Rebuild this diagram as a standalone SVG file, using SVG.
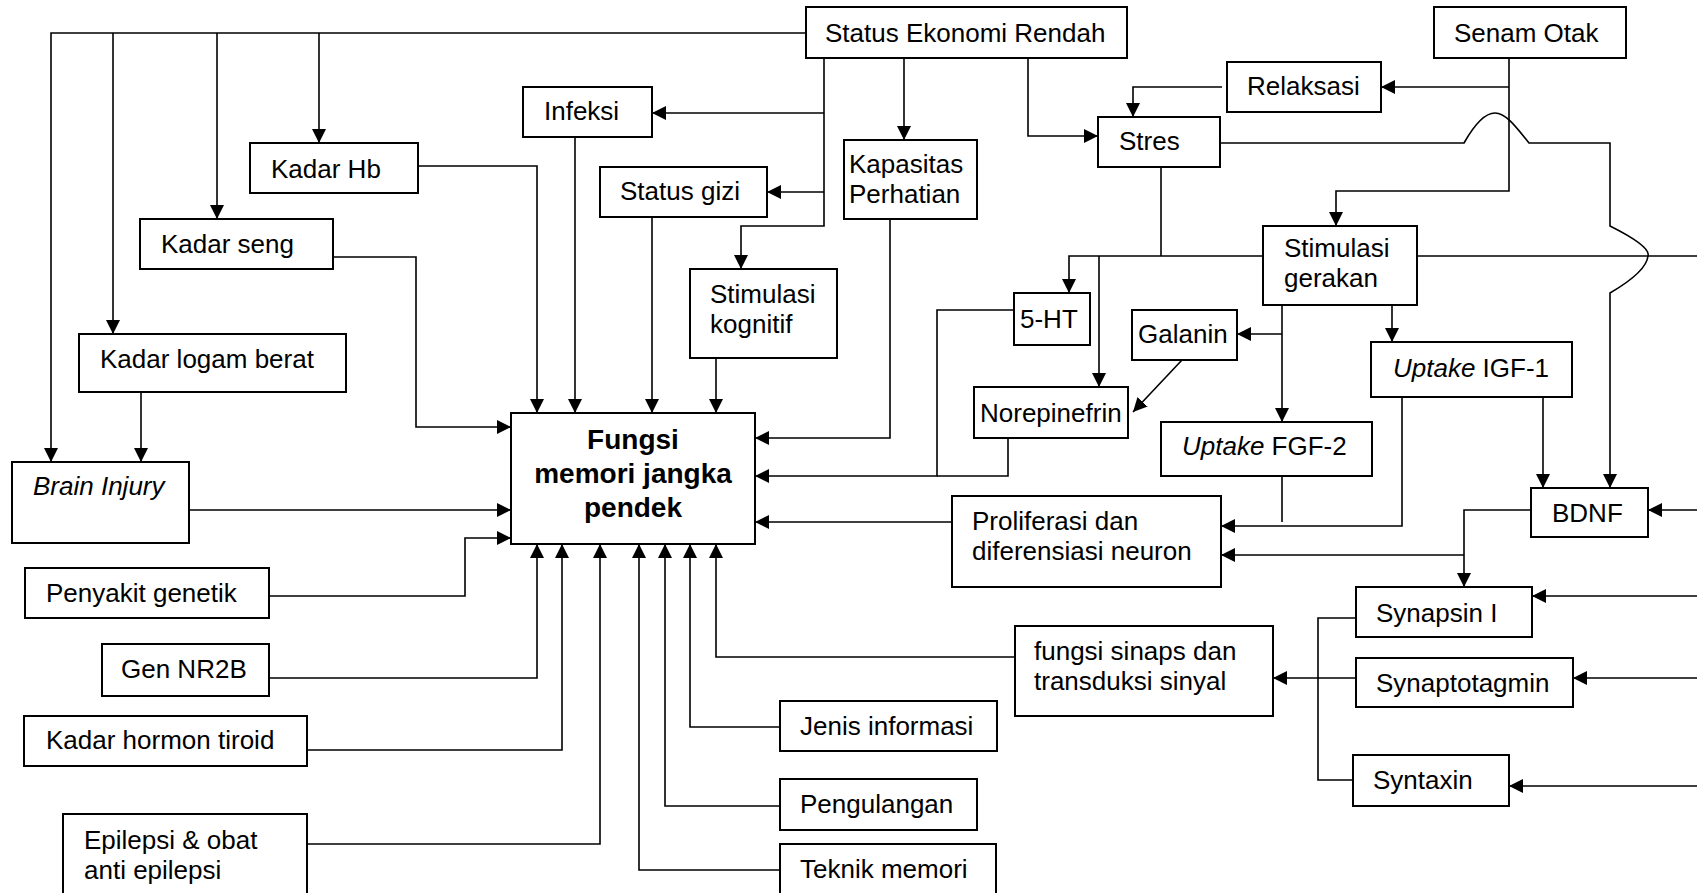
<svg xmlns="http://www.w3.org/2000/svg" width="1697" height="893" viewBox="0 0 1697 893">
<style>
.box{fill:#fff;stroke:#000;stroke-width:2}
.t{font-family:"Liberation Sans",Arial,sans-serif;font-size:26px;fill:#000}
.b{font-family:"Liberation Sans",Arial,sans-serif;font-size:28px;font-weight:bold;fill:#000}
.c{fill:none;stroke:#000;stroke-width:1.6}
.a{marker-end:url(#ah)}
</style>
<defs>
<marker id="ah" markerWidth="14" markerHeight="14" refX="14" refY="7" orient="auto" markerUnits="userSpaceOnUse">
<path d="M0,0 L14,7 L0,14 z" fill="#000"/>
</marker>
</defs>
<rect width="1697" height="893" fill="#fff"/>
<g id="connectors">
<path class="c a" d="M806,33 H51 V462"/>
<path class="c a" d="M113,33 V334"/>
<path class="c a" d="M217,33 V219"/>
<path class="c a" d="M319,33 V143"/>
<path class="c a" d="M824,58 V226 H741 V269"/>
<path class="c a" d="M824,113 H652"/>
<path class="c a" d="M824,192 H767"/>
<path class="c a" d="M904,58 V140"/>
<path class="c a" d="M1028,58 V136 H1098"/>
<path class="c a" d="M1509,58 V191 H1336 V226"/>
<path class="c a" d="M1509,87 H1381"/>
<path class="c a" d="M1222,87 H1133 V117"/>
<path class="c a" d="M1220,143 H1464 C1477,120 1487,113 1495,113 C1505,113 1514,124 1529,143 H1610 V226 C1638,240 1650,250 1648,256 C1647,266 1634,279 1610,293 V488"/>
<path class="c" d="M1161,167 V256"/>
<path class="c a" d="M1263,256 H1069 V293"/>
<path class="c a" d="M1099,256 V387"/>
<path class="c" d="M1417,256 H1697"/>
<path class="c a" d="M1282,305 V422"/>
<path class="c a" d="M1282,334 H1237"/>
<path class="c a" d="M1392,305 V342"/>
<path class="c a" d="M1182,360 L1133,412"/>
<path class="c a" d="M1014,310 H937 V476 H755"/>
<path class="c" d="M1008,438 V476 H937"/>
<path class="c a" d="M890,219 V438 H755"/>
<path class="c a" d="M952,522 H755"/>
<path class="c" d="M1282,476 V522"/>
<path class="c a" d="M1402,397 V526 H1221"/>
<path class="c a" d="M1543,397 V488"/>
<path class="c a" d="M1697,510 H1648"/>
<path class="c a" d="M1531,510 H1464 V587"/>
<path class="c a" d="M1464,555 H1221"/>
<path class="c a" d="M1697,596 H1532"/>
<path class="c a" d="M1697,678 H1573"/>
<path class="c a" d="M1697,786 H1509"/>
<path class="c" d="M1356,618 H1318 V780 H1353"/>
<path class="c a" d="M1356,678 H1273"/>
<path class="c a" d="M1015,657 H716 V544"/>
<path class="c a" d="M780,727 H690 V544"/>
<path class="c a" d="M780,806 H665 V544"/>
<path class="c a" d="M780,870 H639 V544"/>
<path class="c a" d="M307,844 H600 V544"/>
<path class="c a" d="M307,750 H562 V544"/>
<path class="c a" d="M269,678 H537 V544"/>
<path class="c a" d="M418,166 H537 V413"/>
<path class="c a" d="M575,137 V413"/>
<path class="c a" d="M652,217 V413"/>
<path class="c a" d="M716,358 V413"/>
<path class="c a" d="M333,257 H416 V427 H511"/>
<path class="c a" d="M189,510 H511"/>
<path class="c a" d="M269,596 H465 V538 H511"/>
<path class="c a" d="M141,392 V462"/>
</g>
<g id="status-ekonomi"><rect class="box" x="806" y="7" width="321" height="51"/><text class="t" x="825" y="42">Status Ekonomi Rendah</text></g>
<g id="senam-otak"><rect class="box" x="1434" y="7" width="192" height="51"/><text class="t" x="1454" y="42">Senam Otak</text></g>
<g id="relaksasi"><rect class="box" x="1227" y="62" width="154" height="50"/><text class="t" x="1247" y="95">Relaksasi</text></g>
<g id="stres"><rect class="box" x="1098" y="117" width="122" height="50"/><text class="t" x="1119" y="150">Stres</text></g>
<g id="infeksi"><rect class="box" x="523" y="87" width="129" height="50"/><text class="t" x="544" y="120">Infeksi</text></g>
<g id="kadar-hb"><rect class="box" x="250" y="143" width="168" height="50"/><text class="t" x="271" y="178">Kadar Hb</text></g>
<g id="status-gizi"><rect class="box" x="600" y="167" width="167" height="50"/><text class="t" x="620" y="200">Status gizi</text></g>
<g id="kapasitas"><rect class="box" x="844" y="140" width="133" height="79"/><text class="t" x="849" y="173">Kapasitas</text><text class="t" x="849" y="203">Perhatian</text></g>
<g id="kadar-seng"><rect class="box" x="140" y="219" width="193" height="50"/><text class="t" x="161" y="253">Kadar seng</text></g>
<g id="stimulasi-kognitif"><rect class="box" x="690" y="269" width="147" height="89"/><text class="t" x="710" y="303">Stimulasi</text><text class="t" x="710" y="333">kognitif</text></g>
<g id="stimulasi-gerakan"><rect class="box" x="1263" y="226" width="154" height="79"/><text class="t" x="1284" y="257">Stimulasi</text><text class="t" x="1284" y="287">gerakan</text></g>
<g id="5ht"><rect class="box" x="1014" y="293" width="76" height="52"/><text class="t" x="1020" y="328">5-HT</text></g>
<g id="galanin"><rect class="box" x="1132" y="310" width="105" height="50"/><text class="t" x="1138" y="343">Galanin</text></g>
<g id="norepinefrin"><rect class="box" x="974" y="387" width="154" height="51"/><text class="t" x="980" y="422">Norepinefrin</text></g>
<g id="uptake-igf1"><rect class="box" x="1371" y="342" width="201" height="55"/><text class="t" x="1393" y="377"><tspan font-style="italic">Uptake</tspan> IGF-1</text></g>
<g id="uptake-fgf2"><rect class="box" x="1161" y="422" width="211" height="54"/><text class="t" x="1182" y="455"><tspan font-style="italic">Uptake</tspan> FGF-2</text></g>
<g id="kadar-logam"><rect class="box" x="79" y="334" width="267" height="58"/><text class="t" x="100" y="368">Kadar logam berat</text></g>
<g id="brain-injury"><rect class="box" x="12" y="462" width="177" height="81"/><text class="t" x="33" y="495" font-style="italic">Brain Injury</text></g>
<g id="fungsi-memori"><rect class="box" x="511" y="413" width="244" height="131"/><text class="b" x="633" y="449" text-anchor="middle">Fungsi</text><text class="b" x="633" y="483" text-anchor="middle">memori jangka</text><text class="b" x="633" y="517" text-anchor="middle">pendek</text></g>
<g id="proliferasi"><rect class="box" x="952" y="496" width="269" height="91"/><text class="t" x="972" y="530">Proliferasi dan</text><text class="t" x="972" y="560">diferensiasi neuron</text></g>
<g id="bdnf"><rect class="box" x="1531" y="488" width="117" height="49"/><text class="t" x="1552" y="522">BDNF</text></g>
<g id="penyakit-genetik"><rect class="box" x="25" y="568" width="244" height="50"/><text class="t" x="46" y="602">Penyakit genetik</text></g>
<g id="gen-nr2b"><rect class="box" x="102" y="644" width="167" height="52"/><text class="t" x="121" y="678">Gen NR2B</text></g>
<g id="kadar-hormon"><rect class="box" x="24" y="716" width="283" height="50"/><text class="t" x="46" y="749">Kadar hormon tiroid</text></g>
<g id="epilepsi"><rect class="box" x="63" y="814" width="244" height="95"/><text class="t" x="84" y="849">Epilepsi &amp; obat</text><text class="t" x="84" y="879">anti epilepsi</text></g>
<g id="synapsin"><rect class="box" x="1356" y="587" width="176" height="50"/><text class="t" x="1376" y="622">Synapsin I</text></g>
<g id="synaptotagmin"><rect class="box" x="1356" y="658" width="217" height="49"/><text class="t" x="1376" y="692">Synaptotagmin</text></g>
<g id="syntaxin"><rect class="box" x="1353" y="755" width="156" height="51"/><text class="t" x="1373" y="789">Syntaxin</text></g>
<g id="fungsi-sinaps"><rect class="box" x="1015" y="626" width="258" height="90"/><text class="t" x="1034" y="660">fungsi sinaps dan</text><text class="t" x="1034" y="690">transduksi sinyal</text></g>
<g id="jenis-informasi"><rect class="box" x="780" y="701" width="217" height="50"/><text class="t" x="800" y="735">Jenis informasi</text></g>
<g id="pengulangan"><rect class="box" x="780" y="779" width="197" height="51"/><text class="t" x="800" y="813">Pengulangan</text></g>
<g id="teknik-memori"><rect class="box" x="780" y="844" width="216" height="65"/><text class="t" x="800" y="878">Teknik memori</text></g>
</svg>
